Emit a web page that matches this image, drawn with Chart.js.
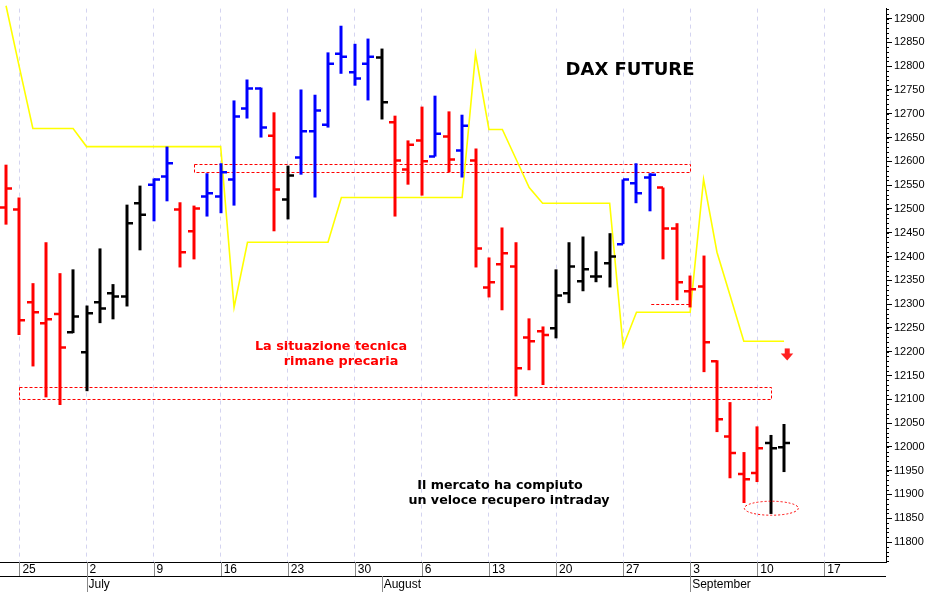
<!DOCTYPE html>
<html><head><meta charset="utf-8">
<script src="https://cdn.jsdelivr.net/npm/chart.js@4/dist/chart.umd.min.js"></script>
<style>html,body{margin:0;padding:0;background:#fff}#w{width:935px;height:592px}</style>
</head><body><div id="w"><canvas id="c"></canvas></div>
<script>
// Trading days 22 Jun - 12 Sep (index 0..58)
const opens  = [12503,12499,12304,12260,12279,12241,12199,12304,12323,12316,12512,12551,12568,12499,12453,12526,12526,12562,12711,12753,12654,12520,12608,12663,12677,12826,12787,12805,12818,12682,12583,12644,12610,12652,12623,12602,12335,12384,12379,12230,12243,12249,12323,12348,12358,12386,12426,12554,12566,12545,12459,12327,12337,12180,12022,11943,11945,12008,11999];
const highs  = [12593,12524,12344,12430,12365,12373,12297,12417,12342,12509,12549,12564,12631,12514,12507,12575,12596,12728,12772,12755,12703,12591,12751,12740,12829,12885,12847,12858,12837,12696,12644,12715,12738,12705,12698,12627,12398,12461,12430,12270,12253,12373,12430,12442,12411,12449,12562,12596,12575,12545,12470,12360,12402,12182,12094,11989,12043,12025,12048];
const lows   = [12467,12235,12169,12104,12088,12239,12117,12260,12268,12295,12413,12474,12516,12377,12394,12484,12491,12507,12690,12650,12453,12478,12572,12524,12671,12784,12759,12728,12688,12484,12551,12528,12610,12577,12566,12377,12314,12287,12106,12161,12130,12228,12302,12327,12346,12335,12426,12512,12495,12394,12308,12293,12157,12031,11934,11882,11926,11859,11947];
const closes = [12543,12266,12283,12268,12209,12274,12281,12291,12316,12470,12488,12562,12596,12409,12501,12533,12577,12694,12753,12671,12541,12570,12663,12707,12805,12820,12774,12820,12724,12602,12635,12600,12658,12604,12675,12417,12346,12407,12165,12222,12235,12318,12379,12373,12358,12400,12562,12533,12572,12459,12346,12331,12220,12058,11987,11932,11997,11997,12008];
const barColors = ['r','r','r','r','r','k','k','k','k','k','k','b','b','r','r','b','b','b','b','b','r','k','b','b','b','b','b','b','k','r','r','r','b','r','b','r','r','r','r','r','r','k','k','k','k','k','b','b','b','r','r','r','r','r','r','r','r','k','k'];
const stopLine = [12927,12797,12669,12669,12669,12669,12631,12631,12631,12631,12631,12631,12631,12631,12631,12631,12631,12293,12430,12430,12430,12430,12430,12430,12430,12524,12524,12524,12524,12524,12524,12524,12524,12524,12524,12826,12667,12667,12606,12545,12512,12512,12512,12512,12512,12512,12211,12283,12283,12283,12283,12283,12562,12409,12316,12222,12222,12222,12222];
const weekIdx = [1,6,11,16,21,26,31,36,41,46,51,56,61];
const weekLabels = ['25','2','9','16','23','30','6','13','20','27','3','10','17'];
const monthIdx = [6,28,51];
const monthLabels = ['July','August','September'];
const yTicks = [11800,11850,11900,11950,12000,12050,12100,12150,12200,12250,12300,12350,12400,12450,12500,12550,12600,12650,12700,12750,12800,12850,12900];
const boxes = [[14,51,12577,12595],[1,57,12100,12125]];
const shortLine = [48.1,51,12300];

const colMap = {r:'#ff0000',k:'#000000',b:'#0000ff'};
const F = '"Liberation Sans", Arial, sans-serif';
const FB = '"DejaVu Sans", sans-serif';

const ohlc = {
  id:'ohlc',
  beforeDatasetsDraw(ch){
    const c=ch.ctx,x=ch.scales.x,y=ch.scales.y;
    c.save();
    c.lineWidth=1;c.setLineDash([3,2]);
    boxes.forEach(b=>{
      const x1=Math.round(x.getPixelForValue(b[0]))+0.5,x2=Math.round(x.getPixelForValue(b[1]))+0.5;
      const y1=Math.round(y.getPixelForValue(b[3]))+0.5,y2=Math.round(y.getPixelForValue(b[2]))+0.5;
      c.strokeStyle='#ff0000';
      c.beginPath();c.moveTo(x1,y1);c.lineTo(x2,y1);c.lineTo(x2,y2);c.lineTo(x1,y2);c.closePath();c.stroke();
    });
    c.beginPath();
    const sy=Math.round(y.getPixelForValue(shortLine[2]))+0.5;
    c.moveTo(x.getPixelForValue(shortLine[0]),sy);c.lineTo(x.getPixelForValue(shortLine[1]),sy);c.stroke();
    c.restore();
  },
  afterDatasetsDraw(ch){
    const c=ch.ctx,x=ch.scales.x,y=ch.scales.y;
    c.save();
    for(let i=0;i<opens.length;i++){
      const px=Math.round(x.getPixelForValue(i));
      c.strokeStyle=colMap[barColors[i]];
      c.lineWidth=3;c.beginPath();
      c.moveTo(px,y.getPixelForValue(highs[i]));c.lineTo(px,y.getPixelForValue(lows[i]));c.stroke();
      c.lineWidth=2.5;c.beginPath();
      const oy=y.getPixelForValue(opens[i]),cy=y.getPixelForValue(closes[i]);
      c.moveTo(px-6,oy);c.lineTo(px,oy);c.moveTo(px,cy);c.lineTo(px+6,cy);c.stroke();
    }
    c.restore();
  },
  afterDraw(ch){
    const c=ch.ctx,x=ch.scales.x,y=ch.scales.y,a=ch.chartArea;
    c.save();
    c.strokeStyle='#ff0000';c.lineWidth=1;c.setLineDash([2,2]);
    c.beginPath();c.ellipse(x.getPixelForValue(57.05),y.getPixelForValue(11871),27,7,0,0,Math.PI*2);c.stroke();
    c.setLineDash([]);
    const ax=x.getPixelForValue(58.2),ay=y.getPixelForValue(12190);
    c.fillStyle='#ff2020';
    c.fillRect(ax-2,ay-8,5,6);
    c.beginPath();c.moveTo(ax-6,ay-3);c.lineTo(ax+6.5,ay-3);c.lineTo(ax+0.5,ay+4);c.closePath();c.fill();
    const b=a.bottom;
    c.strokeStyle='#000';c.lineWidth=1;
    c.beginPath();c.moveTo(0,b+0.5);c.lineTo(a.right,b+0.5);
    c.moveTo(0,b+14.5);c.lineTo(a.right,b+14.5);c.stroke();
    c.strokeStyle='#888';
    c.beginPath();
    weekIdx.forEach(i=>{const px=Math.round(x.getPixelForValue(i))+0.5;c.moveTo(px,b);c.lineTo(px,b+14);});
    monthIdx.forEach(i=>{const px=Math.round(x.getPixelForValue(i))+0.5;c.moveTo(px,b+14);c.lineTo(px,b+30);});
    c.stroke();
    c.fillStyle='#000';c.font='12px '+F;c.textBaseline='middle';c.textAlign='left';
    weekIdx.forEach((i,k)=>c.fillText(weekLabels[k],x.getPixelForValue(i)+3,b+8));
    monthIdx.forEach((i,k)=>c.fillText(monthLabels[k],x.getPixelForValue(i)+2,b+23));
    c.strokeStyle='#000';c.beginPath();
    for(let v=11760;v<=12920;v+=10){const py=Math.round(y.getPixelForValue(v))+0.5;c.moveTo(a.right,py);c.lineTo(a.right+3,py);}
    c.stroke();
    c.textAlign='center';c.textBaseline='middle';
    c.font='bold 18px '+FB;c.fillText('DAX FUTURE',630,70);
    c.fillStyle='#ff0000';c.font='bold 12.8px '+FB;
    c.fillText('La situazione tecnica',331,347);c.fillText('rimane precaria',341,362);
    c.fillStyle='#000';c.font='bold 12.7px '+FB;
    c.fillText('Il mercato ha compiuto',500,486);c.fillText('un veloce recupero intraday',509,501);
    c.restore();
  }
};

new Chart(document.getElementById('c'),{
  type:'line',
  plugins:[ohlc],
  data:{datasets:[{data:stopLine.map((v,i)=>({x:i,y:v})),borderColor:'#ffff00',borderWidth:1.6,pointRadius:0,tension:0,clip:false}]},
  options:{
    responsive:true,maintainAspectRatio:false,animation:false,
    layout:{padding:{left:0,right:0,top:0,bottom:30}},
    plugins:{legend:{display:false},tooltip:{enabled:false}},
    scales:{
      x:{type:'linear',min:-0.45,max:65.6,
        afterBuildTicks:s=>{s.ticks=weekIdx.map(v=>({value:v}));},
        afterFit:s=>{s.height=0;},
        ticks:{display:false},
        grid:{color:'#d4d4f0',drawTicks:false},
        border:{display:false,dash:[4,4]}},
      y:{position:'right',min:11758,max:12921,
        afterBuildTicks:s=>{s.ticks=yTicks.map(v=>({value:v}));},
        afterFit:s=>{s.width=49;},
        ticks:{color:'#000',font:{family:F,size:11},padding:2,callback:v=>String(v)},
        grid:{drawOnChartArea:false,color:'#000',tickLength:6},
        border:{display:true,color:'#000'}}
    }
  }
});
</script></body></html>
